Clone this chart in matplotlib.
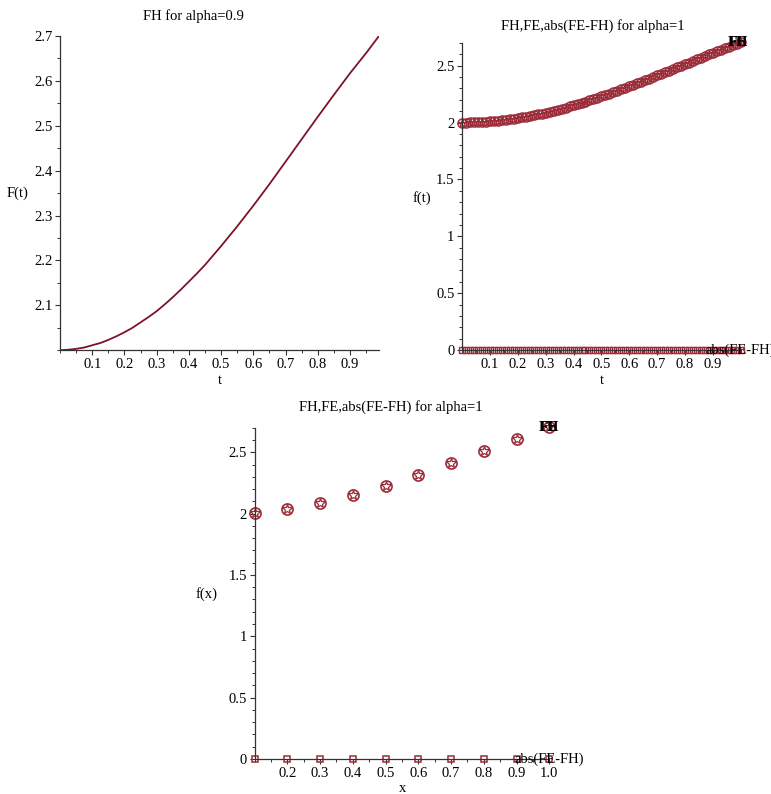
import numpy as np
import matplotlib
matplotlib.use("Agg")
import matplotlib.pyplot as plt
from matplotlib.ticker import MultipleLocator, FixedLocator, FuncFormatter

W, H = 771, 794
LINE = "#7D1426"
MARK = "#9B2D3A"
AXC = "#333333"
plt.rcParams.update({"font.family": ["Liberation Serif", "DejaVu Serif"],
                     "font.size": 10.5})

# (a) FH for alpha = 0.9
T_A09 = [0.0, 0.025, 0.05, 0.075, 0.10, 0.125, 0.15, 0.175, 0.20, 0.225,
         0.25, 0.275, 0.30, 0.325, 0.35, 0.375, 0.40, 0.425, 0.45, 0.475,
         0.50, 0.55, 0.60, 0.65, 0.70, 0.75, 0.80, 0.85, 0.90, 0.95, 0.99]
F_A09 = [2.000, 2.001, 2.003, 2.006, 2.011, 2.016, 2.023, 2.031, 2.040, 2.050,
         2.062, 2.074, 2.087, 2.102, 2.118, 2.135, 2.153, 2.171, 2.190, 2.211,
         2.232, 2.276, 2.322, 2.370, 2.420, 2.470, 2.520, 2.569, 2.617, 2.662, 2.700]

# (b) alpha = 1, dense sampling (71 points on [0, 1])
T_DENSE = np.linspace(0.0, 1.0, 71)
FH_DENSE = [2.000, 2.000, 2.001, 2.002, 2.003, 2.005, 2.007, 2.010, 2.013, 2.016,
            2.020, 2.024, 2.029, 2.034, 2.039, 2.045, 2.051, 2.058, 2.065, 2.072,
            2.079, 2.087, 2.096, 2.104, 2.113, 2.122, 2.132, 2.142, 2.152, 2.162,
            2.173, 2.184, 2.195, 2.206, 2.218, 2.230, 2.242, 2.254, 2.267, 2.280,
            2.292, 2.306, 2.319, 2.332, 2.346, 2.359, 2.373, 2.387, 2.401, 2.415,
            2.429, 2.443, 2.457, 2.472, 2.486, 2.500, 2.515, 2.528, 2.543, 2.557,
            2.571, 2.585, 2.599, 2.614, 2.627, 2.641, 2.655, 2.668, 2.682, 2.695,
            2.708]
FE_DENSE = list(FH_DENSE)  # FE sits right on top of FH
ERR_DENSE = [0.0] * len(FH_DENSE)

# (c) alpha = 1, coarse grid x = 0.1 .. 1.0
X_COARSE = [0.1, 0.2, 0.3, 0.4, 0.5, 0.6, 0.7, 0.8, 0.9, 1.0]
FH_COARSE = [2.007, 2.037, 2.084, 2.149, 2.228, 2.317, 2.412, 2.510, 2.610, 2.703]
FE_COARSE = list(FH_COARSE)
ERR_COARSE = [0.0] * len(FH_COARSE)


def px_axes(fig, x0, x1, ytop, ybot):
    return fig.add_axes([x0 / W, 1 - ybot / H, (x1 - x0) / W, (ybot - ytop) / H])


def ftext(fig, x, y, s, **kw):
    fig.text(x / W, 1 - y / H, s, ha="center", va="center", **kw)


def maple_style(ax):
    for side in ("top", "right"):
        ax.spines[side].set_visible(False)
    for side in ("left", "bottom"):
        ax.spines[side].set_color(AXC)
        ax.spines[side].set_linewidth(0.9)
    ax.tick_params(which="major", direction="out", length=3.5, width=0.8,
                   color=AXC, labelsize=10.5, pad=2)
    ax.tick_params(which="minor", direction="out", length=2, width=0.7, color=AXC)


def num_fmt(v, _):
    return f"{v:.2f}".rstrip("0").rstrip(".")


fig = plt.figure(figsize=(W / 100, H / 100), dpi=100)

# ---- (a) top left
ax1 = px_axes(fig, 60, 379, 36, 350.2)
ax1.plot(T_A09, F_A09, color=LINE, linewidth=1.3)
ax1.set_xlim(0, 0.99)
ax1.set_ylim(2.0, 2.7)
maple_style(ax1)
ax1.xaxis.set_major_locator(FixedLocator([0.1 * i for i in range(1, 10)]))
ax1.xaxis.set_minor_locator(MultipleLocator(0.05))
ax1.yaxis.set_major_locator(FixedLocator([2.1, 2.2, 2.3, 2.4, 2.5, 2.6, 2.7]))
ax1.yaxis.set_minor_locator(MultipleLocator(0.05))
ax1.xaxis.set_major_formatter(FuncFormatter(num_fmt))
ax1.yaxis.set_major_formatter(FuncFormatter(num_fmt))
ftext(fig, 193, 16, "FH for alpha=0.9")
ftext(fig, 18, 193, "F(t)")
ftext(fig, 220, 380, "t")

# ---- (b) top right
ax2 = px_axes(fig, 462.2, 740.6, 43, 350)
ax2.plot(T_DENSE, FH_DENSE, "o", color=MARK, markersize=6.5, markerfacecolor="none",
         markeredgewidth=1.1, clip_on=False)
ax2.plot(T_DENSE, FE_DENSE, "*", color=MARK, markersize=6, markerfacecolor="none",
         markeredgewidth=0.8, clip_on=False)
ax2.plot(T_DENSE, ERR_DENSE, "s", color=MARK, markersize=4.5, markerfacecolor="none",
         markeredgewidth=1.0, clip_on=False)
ax2.set_xlim(0, 1)
ax2.set_ylim(0, 2.7)
maple_style(ax2)
ax2.xaxis.set_major_locator(FixedLocator([0.1 * i for i in range(1, 10)]))
ax2.xaxis.set_minor_locator(MultipleLocator(0.05))
ax2.yaxis.set_major_locator(MultipleLocator(0.5))
ax2.yaxis.set_minor_locator(MultipleLocator(0.1))
ax2.xaxis.set_major_formatter(FuncFormatter(num_fmt))
ax2.yaxis.set_major_formatter(FuncFormatter(num_fmt))
for lab in ("FE", "FH"):
    ax2.text(0.99, 2.7, lab, ha="center", va="center", fontsize=10.5,
             fontweight="bold", color="black", clip_on=False)
ax2.text(1.0, 0.0, "abs(FE-FH)", ha="center", va="center", fontsize=10.5,
         color="black", clip_on=False)
ftext(fig, 593, 26, "FH,FE,abs(FE-FH) for alpha=1")
ftext(fig, 422, 198, "f(t)")
ftext(fig, 602, 380, "t")

# ---- (c) bottom
ax3 = px_axes(fig, 254.5, 549.3, 427.7, 759)
ax3.plot(X_COARSE, FH_COARSE, "o", color=MARK, markersize=8, markerfacecolor="none",
         markeredgewidth=1.2, clip_on=False)
ax3.plot(X_COARSE, FE_COARSE, "*", color=MARK, markersize=7, markerfacecolor="none",
         markeredgewidth=0.9, clip_on=False)
ax3.plot(X_COARSE, ERR_COARSE, "s", color=MARK, markersize=5, markerfacecolor="none",
         markeredgewidth=1.1, clip_on=False)
ax3.set_xlim(0.1, 1.0)
ax3.set_ylim(0, 2.7)
maple_style(ax3)
ax3.xaxis.set_major_locator(FixedLocator([0.2, 0.3, 0.4, 0.5, 0.6, 0.7, 0.8, 0.9, 1.0]))
ax3.xaxis.set_minor_locator(MultipleLocator(0.05))
ax3.yaxis.set_major_locator(MultipleLocator(0.5))
ax3.yaxis.set_minor_locator(MultipleLocator(0.1))
ax3.xaxis.set_major_formatter(
    FuncFormatter(lambda v, p: "1.0" if abs(v - 1) < 1e-9 else num_fmt(v, p)))
ax3.yaxis.set_major_formatter(FuncFormatter(num_fmt))
for lab in ("FE", "FH"):
    ax3.text(1.0, 2.7, lab, ha="center", va="center", fontsize=10.5,
             fontweight="bold", color="black", clip_on=False)
ax3.text(1.0, 0.0, "abs(FE-FH)", ha="center", va="center", fontsize=10.5,
         color="black", clip_on=False)
ftext(fig, 391, 407, "FH,FE,abs(FE-FH) for alpha=1")
ftext(fig, 207, 594, "f(x)")
ftext(fig, 403, 789, "x")

fig.savefig("out.png", dpi=100)
